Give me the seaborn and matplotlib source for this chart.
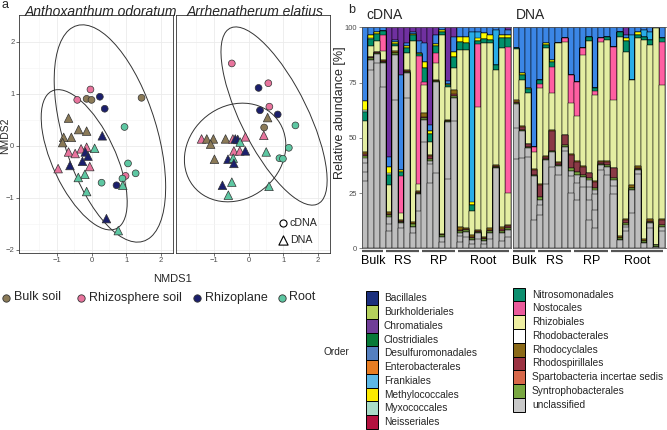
import matplotlib
matplotlib.use("Agg")
import matplotlib.pyplot as plt
import matplotlib.transforms as mtransforms
from matplotlib.patches import Ellipse, Rectangle
import numpy as np
import pandas as pd
import seaborn as sns

# ---------------- panel a: NMDS scores ----------------
groups = ['Bulk soil', 'Rhizosphere soil', 'Rhizoplane', 'Root']
group_short = {'Bulk': 'Bulk soil', 'RS': 'Rhizosphere soil', 'RP': 'Rhizoplane', 'Root': 'Root'}
group_colors = ['#8b7a57', '#e8749d', '#1b1f6c', '#5dc7a2']

ant_cdna_x = [-0.03, -0.41, -0.14, 0.00, 0.24, 0.38, 1.44, 0.95, 1.05, 1.27, 0.98, 0.89, 0.29, 0.72]
ant_cdna_y = [1.08, 0.88, 0.90, 0.88, 0.94, 0.71, 0.92, 0.36, -0.34, -0.53, -0.58, -0.63, -0.71, -0.76]
ant_cdna_grp = ['RS', 'RS', 'Bulk', 'Bulk', 'RP', 'RP', 'Bulk', 'Root', 'Root', 'Root', 'RS', 'Root', 'Root', 'RP']

ant_dna_x = [-0.66, -0.37, -0.14, -0.80, -0.58, -0.83, 0.31, 0.09, -0.14, -0.30, -0.18, -0.66,
             -0.47, -0.10, -0.26, -0.62, -0.05, -0.96, -0.19, -0.38, -0.14, 0.90, 0.43, 0.77]
ant_dna_y = [0.53, 0.31, 0.28, 0.16, 0.16, 0.06, 0.19, -0.05, -0.03, -0.06, -0.12, -0.12,
             -0.15, -0.20, -0.30, -0.38, -0.40, -0.44, -0.55, -0.61, -0.88, -0.76, -1.40, -1.63]
ant_dna_grp = ['Bulk', 'Bulk', 'Bulk', 'Bulk', 'Bulk', 'Bulk', 'RP', 'Root', 'RS', 'RS', 'RP', 'RS',
               'RS', 'RP', 'RP', 'RP', 'RS', 'RS', 'Root', 'Root', 'Root', 'Root', 'RP', 'Root']

arr_cdna_x = [-0.48, 0.29, 0.57, 0.60, 0.33, 0.84, 0.45, 1.35, 1.16, 0.89, 0.99]
arr_cdna_y = [1.58, 1.11, 1.20, 0.75, 0.68, 0.60, 0.35, 0.39, -0.04, -0.24, -0.25]
arr_cdna_grp = ['RS', 'RP', 'RS', 'RS', 'RP', 'RP', 'Bulk', 'Root', 'Root', 'Root', 'Root']

arr_dna_x = [0.55, 0.44, -1.35, -1.20, -1.01, -1.09, -0.66, -0.45, -0.38, -0.31, -0.24, -0.09,
             -0.42, -0.25, -0.09, 0.51, -0.98, -0.59, -0.44, -0.42, -0.75, -0.48, -0.58, 0.59]
arr_dna_y = [0.54, 0.20, 0.13, 0.13, 0.13, 0.03, 0.13, 0.13, 0.13, 0.12, 0.07, 0.17,
             -0.10, -0.10, -0.10, -0.12, -0.26, -0.26, -0.24, -0.34, -0.76, -0.70, -0.95, -0.78]
arr_dna_grp = ['Bulk', 'RS', 'RS', 'Bulk', 'Bulk', 'Bulk', 'Bulk', 'RS', 'RP', 'RP', 'Root', 'RS',
               'RS', 'RS', 'RP', 'Root', 'Bulk', 'RP', 'Root', 'RP', 'RP', 'Root', 'Root', 'Root']

# confidence ellipses: centre x, centre y, semi axis a, semi axis b, angle (deg)
ant_ellipses = [(0.53, 0.235, 2.31, 1.26, -59.2), (-0.21, -0.27, 1.64, 0.81, -49.0)]
arr_ellipses = [(0.735, 0.57, 2.13, 0.85, -49.5), (-0.385, -0.13, 1.47, 0.93, 9.1)]

# ---------------- panel b: relative abundance per sample (%) ----------------
orders = ['Bacillales', 'Burkholderiales', 'Chromatiales', 'Clostridiales', 'Desulfuromonadales',
          'Enterobacterales', 'Frankiales', 'Methylococcales', 'Myxococcales', 'Neisseriales',
          'Nitrosomonadales', 'Nostocales', 'Rhizobiales', 'Rhodobacterales', 'Rhodocyclales',
          'Rhodospirillales', 'Spartobacteria incertae sedis', 'Syntrophobacterales', 'unclassified']
bar_colors = {'Bacillales': '#1a2f80', 'Burkholderiales': '#b4d05a', 'Chromatiales': '#7030a0',
              'Clostridiales': '#007a36', 'Desulfuromonadales': '#3b86e6', 'Enterobacterales': '#ee7d1c',
              'Frankiales': '#28ade8', 'Methylococcales': '#ffff00', 'Myxococcales': '#a8dcc8',
              'Neisseriales': '#b5103e', 'Nitrosomonadales': '#00906a', 'Nostocales': '#ff5fa2',
              'Rhizobiales': '#e4eea2', 'Rhodobacterales': '#ffffff', 'Rhodocyclales': '#8b6914',
              'Rhodospirillales': '#8b3a46', 'Spartobacteria incertae sedis': '#d8684a',
              'Syntrophobacterales': '#79a741', 'unclassified': '#bebebe'}
legend_colors = {'Bacillales': '#1b2f7d', 'Burkholderiales': '#b4d05c', 'Chromatiales': '#703e98',
                 'Clostridiales': '#087a38', 'Desulfuromonadales': '#5580c0', 'Enterobacterales': '#e87d22',
                 'Frankiales': '#5db8e6', 'Methylococcales': '#fbe900', 'Myxococcales': '#a9dcc8',
                 'Neisseriales': '#b3123f', 'Nitrosomonadales': '#0d8f6f', 'Nostocales': '#ea5b9b',
                 'Rhizobiales': '#efefa2', 'Rhodobacterales': '#ffffff', 'Rhodocyclales': '#8b6a18',
                 'Rhodospirillales': '#9b3242', 'Spartobacteria incertae sedis': '#d8684a',
                 'Syntrophobacterales': '#79a741', 'unclassified': '#c9c9c9'}

sample_groups = ['Bulk', 'RS', 'RP', 'Root']
sample_group_sizes = [4, 6, 6, 9]

cdna_unclassified = [[30, 4, 4, 2], [80.7, 4.8], [84, 4], [73, 11], [8, 3, 3], [67.6, 20.4], [9, 2.3],
                     [68, 11.5], [7, 2.8], [17, 8], [48, 10], [30, 8.5, 1.5], [34, 40.7], [3, 2],
                     [31.7, 26.1], [57.7, 10.2], [3, 2.5, 1.3], [5, 2.5], [2, 1.8], [4, 2.8], [2, 1.5],
                     [4, 2.8], [36.2], [3.5, 3.3], [5, 3.3]]
cdna_syntrophobacterales = [1, 0.8, 0.5, 0.5, 1, 0.8, 0.6, 0.5, 1, 0.5, 0.8, 1, 0.5, 0.8, 0.5, 1.2,
                            1, 0.8, 1, 0.8, 0.8, 1, 0.7, 1, 1]
cdna_rhodospirillales = [0.8, 0.3, 0.2, 0.2, 0.5, 0.4, 0.3, 0.2, 0.3, 0.2, 0.7, 1.5, 0.2, 0.2, 0.2,
                         0.8, 0.6, 0.2, 0.4, 0.2, 0.4, 0.4, 0.3, 0.8, 0.6]
cdna_rhodocyclales = [1.2, 0.4, 0.3, 0.3, 0.8, 0.8, 0.6, 0.5, 0.7, 0.5, 1.5, 0.5, 0.5, 0.5, 0.3, 1.7,
                      1.4, 0.5, 0.8, 0.5, 0.6, 0.8, 0.5, 1.2, 0.7]
cdna_rhizobiales = [13.6, 5, 5, 4.5, 12.5, 2, 3.3, 8, 82, 3.3, 12.8, 6, 7.5, 90, 15, 9.8, 79.9, 80.5,
                    11, 55.5, 87.8, 83.7, 43, 80.7, 14.3]
cdna_nostocales = [0, 0, 0, 7, 0, 0, 16.7, 0, 0, 58.8, 1.5, 0, 4.5, 0, 0, 0, 0, 0, 0, 28.7, 0, 0, 0,
                   0, 66.3]
cdna_nitrosomonadales = [4, 3, 3, 2, 4.5, 1, 1.5, 2, 2.5, 0.8, 6, 3.5, 3, 1.5, 0.8, 5.3, 3.8, 3.4,
                         2.6, 1.5, 1.5, 1.5, 2.3, 4.5, 3.8]
cdna_myxococcales = [1, 0.3, 0, 0, 0.5, 0, 0, 0, 0, 0, 0, 0, 0, 0, 0, 0, 0, 0, 0, 0, 0, 0, 0, 0, 0]
cdna_methylococcales = [3.8, 1.5, 1, 0, 3, 1, 1, 1, 0.7, 0.5, 3.1, 1.5, 1, 0.7, 0.5, 2.3, 2.3, 2.7,
                        1.5, 1, 2.7, 2.2, 0, 1.5, 1.5]
cdna_frankiales = [0, 0, 0, 0, 0, 0, 0, 0, 0, 0, 0, 0, 0, 0, 0, 0, 0, 0, 77, 3, 0, 0, 15.8, 0, 0]
cdna_desulfuromonadales = [33, 3.5, 2, 1.5, 4.5, 1, 43, 1.5, 1, 5.3, 8.3, 2.5, 4, 1.3, 1.5, 6.8,
                           4.2, 4.2, 2, 2, 2.7, 3.5, 1.2, 3.5, 2.3]
cdna_chromatiales = [0, 0, 0, 0, 58.5, 5.7, 21.6, 7, 2, 6.5, 7.2, 45, 3.5, 0, 24.6, 4.2, 0, 0, 0, 0,
                     0, 0, 0, 0, 1.2]

dna_unclassified = [[41, 14, 11], [40.7, 12.1], [41.5, 4.5], [12.8, 19.6], [15, 4.5, 2.4], [29.4, 10.6],
                    [37, 6.7], [33, 4], [44, 2], [24.9, 7.5, 2.3], [21.9, 7.5, 3.8], [27.6, 4.8],
                    [12.8, 9.1, 6, 3], [9, 8.3, 7.5, 1.6], [35.5, 2.2], [33.2, 3.8], [24.5, 4, 2.5],
                    [3.8], [8, 1.5, 1.1], [16, 10.4], [33.9, 1.5], [2.5], [9, 2.3], [0.8], [8, 1.8]]
dna_syntrophobacterales = [0.5, 0.5, 0.5, 0.8, 1.5, 0.5, 0.5, 0.8, 0.8, 1.5, 1.5, 0.8, 0.8, 0.8, 0.8,
                           1, 0.8, 0.8, 1, 0.8, 0.8, 0.7, 0.8, 0.5, 0.8]
dna_rhodospirillales = [0.6, 1.5, 1, 2.3, 5.3, 1, 9, 0.5, 4.5, 6, 4.5, 3.8, 2.3, 3.1, 0.7, 1.2, 4.5,
                        0.3, 1.3, 0.3, 0.3, 0.3, 0.4, 0, 2]
dna_rhodocyclales = [0.6, 0.3, 0.3, 0.3, 0.5, 0.5, 0.5, 0.7, 0.3, 0.5, 0.5, 0.3, 0.3, 0.3, 0.5, 0.5,
                     0.3, 0.7, 0.5, 1.2, 0.7, 0.5, 0.8, 0.3, 0.5]
dna_rhizobiales = [23.4, 21, 23.3, 7.6, 43.7, 49, 16.9, 53.5, 42.2, 22.7, 20.3, 50.5, 60, 39.2, 54.3,
                   55.1, 30.9, 90.4, 75.4, 47.6, 58.3, 90.5, 79, 98.6, 60.3]
dna_nostocales = [0, 0, 0, 2.3, 1.6, 0, 11.7, 0, 1.5, 12.7, 15.5, 3, 0, 1.5, 1.5, 0, 24, 0, 0, 0, 0,
                  0, 0, 0, 19.5]
dna_nitrosomonadales = [0.5, 2.2, 1.5, 0, 2.2, 1.5, 2.4, 0, 0, 0, 0, 0, 1.5, 1.5, 0, 1.5, 0, 2.3, 5,
                        0, 1.5, 1.5, 2.3, 0, 1.5]
dna_methylococcales = [0, 0.8, 0.8, 0, 0, 0.8, 0.8, 0, 0, 0, 0, 0, 0, 0, 0, 0, 0, 0, 1, 0, 1.5, 0, 0,
                       0, 0]
dna_frankiales = [0, 0, 0, 0, 0, 0, 0, 0, 0, 0, 0, 0, 0, 0, 0, 0, 0, 0, 0, 20.3, 0, 3, 3.8, 0, 0]
dna_desulfuromonadales = [9.5, 20.8, 27.6, 54, 23.8, 7.2, 15, 7.2, 5, 21.6, 24.6, 9.5, 4.5, 27.6, 5,
                          4.2, 8.8, 2, 1.5, 3.5, 2, 1.2, 2, 0.5, 5]
dna_chromatiales = [0, 0, 0, 0, 0, 0, 0, 0, 0, 0, 0, 0, 0, 0, 0, 0, 0, 0, 3.5, 0, 0, 0, 0, 0, 0]

cdna_abund = {'Syntrophobacterales': cdna_syntrophobacterales, 'Rhodospirillales': cdna_rhodospirillales,
              'Rhodocyclales': cdna_rhodocyclales, 'Rhizobiales': cdna_rhizobiales,
              'Nostocales': cdna_nostocales, 'Nitrosomonadales': cdna_nitrosomonadales,
              'Myxococcales': cdna_myxococcales, 'Methylococcales': cdna_methylococcales,
              'Frankiales': cdna_frankiales, 'Desulfuromonadales': cdna_desulfuromonadales,
              'Chromatiales': cdna_chromatiales}
dna_abund = {'Syntrophobacterales': dna_syntrophobacterales, 'Rhodospirillales': dna_rhodospirillales,
             'Rhodocyclales': dna_rhodocyclales, 'Rhizobiales': dna_rhizobiales,
             'Nostocales': dna_nostocales, 'Nitrosomonadales': dna_nitrosomonadales,
             'Methylococcales': dna_methylococcales, 'Frankiales': dna_frankiales,
             'Desulfuromonadales': dna_desulfuromonadales, 'Chromatiales': dna_chromatiales}

# ---------------- figure ----------------
sns.set_theme(style='white')
plt.rcParams['font.family'] = ['Liberation Sans', 'DejaVu Sans']

W, H = 667, 430
fig = plt.figure(figsize=(W / 100, H / 100), dpi=100)


def px_axes(x0, y0, x1, y1):
    return fig.add_axes([x0 / W, 1 - y1 / H, (x1 - x0) / W, (y1 - y0) / H])


ax_ant = px_axes(18.5, 15, 172.5, 253)
ax_arr = px_axes(175.5, 15, 329.5, 253)
ax_cdna = px_axes(361.7, 27.3, 511.2, 248.3)
ax_dna = px_axes(512.7, 27.3, 665.5, 248.3)

# NMDS data frame
rows = []
for plant, typ, xs, ys, gs in [('ant', 'cDNA', ant_cdna_x, ant_cdna_y, ant_cdna_grp),
                               ('ant', 'DNA', ant_dna_x, ant_dna_y, ant_dna_grp),
                               ('arr', 'cDNA', arr_cdna_x, arr_cdna_y, arr_cdna_grp),
                               ('arr', 'DNA', arr_dna_x, arr_dna_y, arr_dna_grp)]:
    for x, y, g in zip(xs, ys, gs):
        rows.append({'plant': plant, 'type': typ, 'NMDS1': x, 'NMDS2': y, 'group': group_short[g]})
nmds = pd.DataFrame(rows)

for ax, plant, ells in [(ax_ant, 'ant', ant_ellipses), (ax_arr, 'arr', arr_ellipses)]:
    sub = nmds[nmds.plant == plant]
    for typ, marker, size in [('cDNA', 'o', 24), ('DNA', '^', 38)]:
        sns.scatterplot(data=sub[sub.type == typ], x='NMDS1', y='NMDS2', hue='group',
                        hue_order=groups, palette=group_colors, marker=marker, s=size,
                        edgecolor='#333333', linewidth=0.5, legend=False, ax=ax, zorder=3)
    for cx, cy, a, b, ang in ells:
        ax.add_patch(Ellipse((cx, cy), 2 * a, 2 * b, angle=ang, fill=False,
                             edgecolor='#333333', linewidth=0.7, zorder=2))
    ax.set_xlim(-2.1, 2.33)
    ax.set_ylim(-2.06, 2.51)
    ax.set_xticks([-1, 0, 1, 2])
    ax.set_xticks([-1.5, -0.5, 0.5, 1.5], minor=True)
    ax.set_yticks([-2, -1, 0, 1, 2])
    ax.set_yticks([-1.5, -0.5, 0.5, 1.5], minor=True)
    ax.grid(True, which='major', color='#ebebeb', linewidth=0.6)
    ax.grid(True, which='minor', color='#f4f4f4', linewidth=0.4)
    ax.set_axisbelow(True)
    ax.set_xlabel('')
    ax.set_ylabel('')
    ax.tick_params(axis='both', which='major', labelsize=5.5, labelcolor='#4d4d4d', length=2,
                   width=0.5, color='#333333', pad=1, bottom=True, left=True)
    ax.tick_params(which='minor', length=0)
    for sp in ax.spines.values():
        sp.set_color('#333333')
        sp.set_linewidth(0.6)

ax_arr.tick_params(axis='y', left=False, labelleft=False)
ax_ant.set_yticklabels(['\u22122', '\u22121', '0', '1', '2'])
for ax in (ax_ant, ax_arr):
    ax.set_xticklabels(['\u22121', '0', '1', '2'])


def stacked_bars(ax, abund, unclassified):
    n = len(unclassified)
    npieces = max(len(p) for p in unclassified)
    layers = []
    for k in range(npieces):
        layers.append((bar_colors['unclassified'],
                       [p[k] if k < len(p) else 0 for p in unclassified]))
    for order in reversed(orders[:-1]):
        layers.append((bar_colors[order], abund.get(order, [0] * n)))
    heights = np.array([v for _, v in layers], dtype=float)
    heights = heights / heights.sum(axis=0) * 100
    cum = heights.cumsum(axis=0)
    pos = np.arange(n)
    for li in range(len(layers) - 1, -1, -1):
        sns.barplot(x=pos, y=cum[li], color=layers[li][0], width=1, saturation=1,
                    edgecolor='black', linewidth=0.35, errorbar=None, ax=ax)
    ax.set_xlim(-0.5, n - 0.5)
    ax.set_ylim(0, 100)
    ax.set_xticks([])
    ax.set_xlabel('')
    ax.set_ylabel('')
    for sp in ax.spines.values():
        sp.set_color('#555555')
        sp.set_linewidth(0.6)
    # sample group brackets below the bars
    trans = mtransforms.blended_transform_factory(ax.transData, ax.transAxes)
    start = 0
    for name, size in zip(sample_groups, sample_group_sizes):
        x0 = start - 0.5 + 0.1
        x1 = start + size - 0.5 - 0.4
        ax.plot([x0, x1], [-0.014, -0.014], transform=trans, color='#555555', lw=1.6,
                clip_on=False, solid_capstyle='butt')
        ax.text((x0 + x1) / 2, -0.058, name, transform=trans, ha='center', va='center',
                fontsize=9, color='black')
        start += size


stacked_bars(ax_cdna, cdna_abund, cdna_unclassified)
stacked_bars(ax_dna, dna_abund, dna_unclassified)

ax_cdna.set_yticks([0, 25, 50, 75, 100])
ax_cdna.set_yticklabels(['0', '25', '50', '75', '100'])
ax_cdna.tick_params(axis='y', labelsize=5.5, labelcolor='#4d4d4d', length=2, width=0.5,
                    color='#555555', pad=1.5, left=True)
ax_dna.set_yticks([])

# ---------------- text and legends in figure pixels ----------------
ov = fig.add_axes([0, 0, 1, 1], zorder=10)
ov.set_xlim(0, W)
ov.set_ylim(H, 0)
ov.axis('off')

ov.text(1, 8, 'a', fontsize=9, va='baseline')
ov.text(348, 13, 'b', fontsize=9, va='baseline')
ov.text(101, 16.5, 'Anthoxanthum odoratum', fontsize=10, style='italic', ha='center', va='baseline')
ov.text(255, 16.5, 'Arrhenatherum elatius', fontsize=10, style='italic', ha='center', va='baseline')
ov.text(366, 19.3, 'cDNA', fontsize=10, va='baseline')
ov.text(516, 19.3, 'DNA', fontsize=10, va='baseline')
ov.text(5.5, 136, 'NMDS2', fontsize=7.5, rotation=90, ha='center', va='center')
ov.text(173, 279, 'NMDS1', fontsize=8, ha='center', va='center')
ov.text(340.5, 113, 'Relative abundance [%]', fontsize=9, rotation=90, ha='center', va='center')

# compartment legend
for gname, gcol, mx in zip(groups, group_colors, [5.5, 81, 197, 281.5]):
    ov.scatter([mx], [297.5], s=28, color=gcol, edgecolor='#333333', linewidth=0.6)
    ov.text(mx + 8, 297.5, gname, fontsize=9, va='center')

# nucleic acid legend inside the right NMDS panel
ov.scatter([283], [222.5], s=26, marker='o', facecolor='white', edgecolor='black', linewidth=0.8)
ov.scatter([283], [240], s=44, marker='^', facecolor='white', edgecolor='black', linewidth=0.8)
ov.text(290, 222.5, 'cDNA', fontsize=7.7, va='center')
ov.text(290, 240, 'DNA', fontsize=7.7, va='center')

# order legend
ov.text(323, 352, 'Order', fontsize=7.3, va='center')
for i, order in enumerate(orders):
    if i < 10:
        kx, ky, tx = 365.5, 298.3 + 13.75 * i, 384
    else:
        kx, ky, tx = 512.5, 294.5 + 13.8 * (i - 10), 532
    ov.add_patch(Rectangle((kx, ky - 6.85), 12.5, 13.7, facecolor=legend_colors[order],
                           edgecolor='black', linewidth=0.7))
    ov.text(tx, ky, order, fontsize=7.3, va='center')

fig.savefig('out.png', dpi=100)
